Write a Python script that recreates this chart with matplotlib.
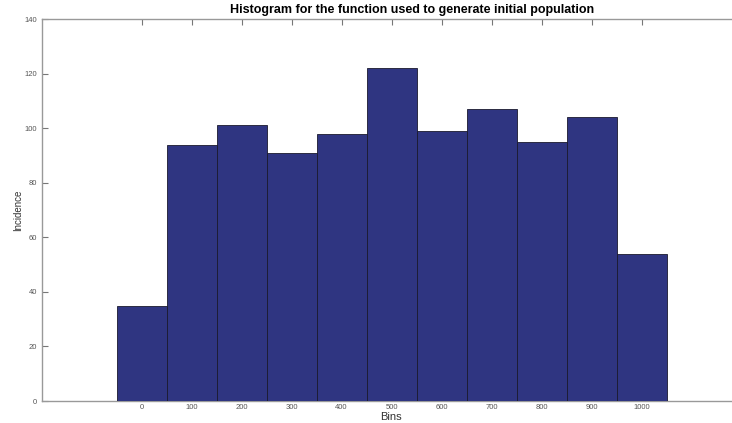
import numpy as np
import matplotlib
matplotlib.use("Agg")
import matplotlib.pyplot as plt

plt.rcParams['font.family'] = ['Liberation Sans', 'DejaVu Sans']

# histogram of the initial population
bin_centers = [0, 100, 200, 300, 400, 500, 600, 700, 800, 900, 1000]
counts = [35, 94, 101, 91, 98, 122, 99, 107, 95, 104, 54]
x_ticks = [0, 100, 200, 300, 400, 500, 600, 700, 800, 900, 1000]
y_ticks = [0, 20, 40, 60, 80, 100, 120, 140]

fig = plt.figure(figsize=(7.32, 4.23), dpi=100)
# axes runs just past the right edge, as in the cropped original
ax_w = 700.0
ax = fig.add_axes([41.5 / 732, 22 / 423, ax_w / 732, 382 / 423])

# bars sit on top of the bottom spine like in the original
ax.bar(bin_centers, counts, width=100, color='#2f3581', edgecolor='#1a1a2e',
       linewidth=0.6, zorder=3)

ax.set_xlim(-200, 1200)
ax.set_ylim(0, 140)
ax.set_xticks(x_ticks)
ax.set_yticks(y_ticks)
ax.tick_params(axis='both', direction='in', labelsize=5.5, labelcolor='#555555',
               color='#777777', length=4, width=0.8)
ax.tick_params(axis='x', top=True, bottom=False, pad=2)
ax.tick_params(axis='y', left=True, right=False, pad=3)

for s in ax.spines.values():
    s.set_color('#999999')
    s.set_linewidth(1.0)

ax.set_title('Histogram for the function used to generate initial population',
             fontsize=9, fontweight='bold', pad=4, x=(412 - 41.5) / ax_w)
ax.set_xlabel('Bins', fontsize=8, color='#333333', labelpad=0)
ax.xaxis.set_label_coords((391 - 41.5) / ax_w, -0.03)
ax.set_ylabel('Incidence', fontsize=7, color='#333333')
ax.yaxis.set_label_coords(-(41.5 - 23.5) / ax_w, 0.5)

fig.savefig('out.png', dpi=100)
